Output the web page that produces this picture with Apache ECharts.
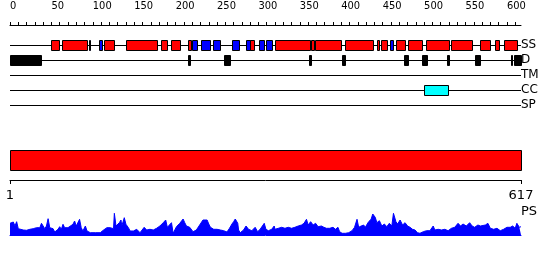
<!DOCTYPE html>
<html><head><meta charset="utf-8">
<script src="https://cdn.jsdelivr.net/npm/echarts@6/dist/echarts.min.js"></script>
<style>html,body{margin:0;padding:0;background:#fff}#c{width:550px;height:260px}</style>
</head><body><div id="c"></div>
<script>
const seqLength = 617;
const trackNames = ['SS', 'D', 'TM', 'CC', 'SP'];
const rulerLabels = [0, 50, 100, 150, 200, 250, 300, 350, 400, 450, 500, 550, 600];
const scaleLabels = [1, 617];
const profileName = 'PS';

// secondary structure: helices (red) and strands (blue), [start, end]
const helices = [[49,59],[63,93],[113,125],[140,178],[182,190],[195,205],[215,219],[290,295],
  [320,362],[363,367],[368,400],[404,438],[443,446],[448,455],[466,477],[480,497],[502,530],
  [533,558],[568,580],[586,591],[597,612]];
const strands = [[95,97],[108,111],[220,226],[231,242],[245,254],[268,276],[285,290],[301,307],
  [309,316],[459,463]];
// disorder (black)
const disorder = [[0,37],[215,217],[258,266],[361,363],[401,405],[476,480],[497,503],[528,530],
  [561,567],[605,606],[609,617]];
const transmembrane = [];
const coiledCoil = [[500,529]];
const signalPeptide = [];

// profile [position, value]
const psProfile = [[0,11.7],[2,10.7],[4,13],[6,9],[8,13.3],[10,6.3],[12,5.7],[16,5],[20,4.7],[24,5.7],[28,6.3],
[30,8.3],[32,7.3],[34,9],[36,7.3],[38,11.7],[40,13],[42,6.3],[44,9],[46,16.3],[48,7.3],[50,9],[52,6.3],
[54,3],[56,4],[58,5.7],[60,8.3],[62,5.7],[64,10.7],[66,7.3],[68,6.3],[70,7.3],[72,9],[76,10.7],[78,14],
[80,9],[82,8.3],[84,15.7],[86,7.3],[88,4],[91,9],[93,4],[95,3],[97,2.3],[103,2.3],[109,2.3],[111,4],
[113,5],[115,6.3],[117,7.3],[121,7.3],[123,9],[125,6.3],[126,21.7],[128,9],[130,9.7],[132,12.3],[134,15],
[135,9],[138,17.3],[140,10.7],[143,7.3],[145,4],[149,4],[153,5.7],[155,6.3],[157,2.3],[162,7.7],[165,5],
[169,5.7],[173,5],[177,6.7],[181,9],[185,12.3],[188,15],[190,7.7],[192,9],[195,12.3],[197,1.7],[201,8.3],
[205,11.7],[209,16],[211,12.3],[213,9],[217,7.7],[221,3.3],[225,5],[229,10],[233,15],[235,15.7],[238,15],
[240,11],[242,7.7],[246,5.7],[250,5.7],[254,5],[258,4.3],[262,3],[265,6.7],[268,11],[270,13.3],[272,16],
[275,11.7],[276,5],[278,2.3],[282,5],[285,9],[288,5.7],[292,4.3],[296,7.7],[299,3.3],[302,5.7],[304,7.7],
[307,11.7],[309,5.7],[312,4.3],[316,5.7],[319,9],[320,5.7],[324,6.7],[328,7.7],[332,6.7],[336,7.7],
[340,6.7],[344,7.7],[348,9],[352,10],[355,11.7],[358,15.7],[360,10],[363,13.3],[366,10],[369,11.7],
[372,8.3],[376,9],[379,7.7],[382,6.7],[386,6.7],[390,7.7],[393,5.7],[396,7.7],[398,3.3],[401,1.7],
[405,1.7],[409,2.3],[413,4.3],[416,7.7],[419,15.7],[421,7.7],[424,9],[427,10],[429,7.7],[433,13.3],
[436,15.7],[438,21],[441,17.7],[443,12.3],[446,14.3],[449,9],[452,11],[455,8.3],[458,11.7],[461,9],
[463,21.7],[466,13.3],[468,11],[471,15],[474,10],[477,12.3],[480,9],[483,7.7],[486,5.7],[489,5],
[492,2.3],[495,1.7],[499,3.3],[503,4.3],[507,4.3],[511,9],[513,5],[517,5.7],[521,5],[525,5.7],[529,4.3],
[533,6.7],[537,7.7],[541,11.7],[544,9],[547,11],[551,9],[555,12.3],[558,9],[561,7.7],[565,10],[568,9],
[570,7.7],[574,10],[577,11.7],[580,6.7],[584,5.7],[588,6.7],[592,4.3],[596,5.7],[600,7.7],[604,7.7],
[607,9],[610,6.7],[612,11.7],[615,7.7],[617,8.3]];

const FONT = 'DejaVu Sans';
const NARROW = "'Liberation Sans Narrow', 'DejaVu Sans Condensed', sans-serif";
const chart = echarts.init(document.getElementById('c'), null, {renderer: 'canvas'});

function crisp(v) { return Math.round(v) + 0.5; }

function boxRenderer(fill) {
  return function (params, api) {
    const t = api.value(2);
    const p0 = api.coord([api.value(0), t]);
    const p1 = api.coord([api.value(1), t]);
    const x0 = crisp(p0[0]);
    const x1 = crisp(p1[0]);
    const yc = Math.round(p0[1]);
    return {
      type: 'rect',
      shape: {x: x0, y: yc - 4.5, width: Math.max(x1 - x0, 0.01), height: 10},
      style: {fill: fill, stroke: '#000', lineWidth: 1}
    };
  };
}
function withTrack(arr, idx) { return arr.map(d => [d[0], d[1], idx]); }

const G = {left: 10, width: 511};
const option = {
  animation: false,
  backgroundColor: '#fff',
  textStyle: {fontFamily: FONT},
  grid: [
    {left: G.left, width: G.width, top: 15, height: 10},
    {left: G.left, width: G.width, top: 37.5, height: 75},
    {left: G.left, width: G.width, top: 150, height: 21},
    {left: G.left, width: G.width, top: 170, height: 10},
    {left: G.left, width: G.width, top: 205, height: 30}
  ],
  xAxis: [
    {gridIndex: 0, type: 'value', min: 0, max: seqLength, interval: 10, position: 'top',
      axisLine: {show: true, lineStyle: {color: '#000', width: 1}},
      axisTick: {show: true, length: 3, lineStyle: {color: '#000'}},
      axisLabel: {show: true, align: 'left', margin: 3, fontSize: 11, color: '#000', fontFamily: NARROW,
        showMaxLabel: false,
        formatter: v => rulerLabels.indexOf(v) >= 0 ? String(v) : ''},
      splitLine: {show: false}},
    {gridIndex: 1, type: 'value', min: 0, max: seqLength, show: false},
    {gridIndex: 2, type: 'value', min: 0, max: seqLength, show: false},
    {gridIndex: 3, type: 'value', min: 1, max: seqLength, position: 'bottom',
      axisLine: {show: true, lineStyle: {color: '#000', width: 1}},
      axisTick: {show: true, length: 4, customValues: scaleLabels, lineStyle: {color: '#000'}},
      axisLabel: {show: true, customValues: scaleLabels, margin: 9, fontSize: 13, color: '#000', fontFamily: FONT},
      splitLine: {show: false}},
    {gridIndex: 4, type: 'value', min: 0, max: seqLength,
      axisLine: {show: true, lineStyle: {color: '#0000ff', width: 1}},
      axisTick: {show: false}, axisLabel: {show: false}, splitLine: {show: false}}
  ],
  yAxis: [
    {gridIndex: 0, type: 'value', show: false},
    {gridIndex: 1, type: 'category', data: trackNames, inverse: true, position: 'right',
      axisLine: {show: false}, axisTick: {show: false}, splitLine: {show: false},
      axisLabel: {show: true, interval: 0, margin: 0, align: 'left', fontSize: 12, color: '#000', fontFamily: FONT}},
    {gridIndex: 2, type: 'value', show: false},
    {gridIndex: 3, type: 'value', show: false},
    {gridIndex: 4, type: 'value', min: 0, max: 30, show: false}
  ],
  graphic: [
    {type: 'text', left: 521, top: 205, style: {text: profileName, fontSize: 13, fontFamily: FONT, fill: '#000'}}
  ],
  series: [
    {type: 'custom', xAxisIndex: 1, yAxisIndex: 1, silent: true,
      data: trackNames.map((n, i) => [0, seqLength, i]),
      renderItem: function (params, api) {
        const t = api.value(2);
        const p0 = api.coord([api.value(0), t]);
        const p1 = api.coord([api.value(1), t]);
        const y = crisp(p0[1]);
        return {type: 'line', shape: {x1: p0[0], y1: y, x2: p1[0], y2: y},
          style: {stroke: '#000', lineWidth: 1}};
      }},
    {type: 'custom', name: 'helix', xAxisIndex: 1, yAxisIndex: 1, silent: true,
      data: withTrack(helices, 0), renderItem: boxRenderer('#ff0000')},
    {type: 'custom', name: 'strand', xAxisIndex: 1, yAxisIndex: 1, silent: true,
      data: withTrack(strands, 0), renderItem: boxRenderer('#0000ff')},
    {type: 'custom', name: 'disorder', xAxisIndex: 1, yAxisIndex: 1, silent: true,
      data: withTrack(disorder, 1), renderItem: boxRenderer('#000000')},
    {type: 'custom', name: 'tm', xAxisIndex: 1, yAxisIndex: 1, silent: true,
      data: withTrack(transmembrane, 2), renderItem: boxRenderer('#ffff00')},
    {type: 'custom', name: 'cc', xAxisIndex: 1, yAxisIndex: 1, silent: true,
      data: withTrack(coiledCoil, 3), renderItem: boxRenderer('#00ffff')},
    {type: 'custom', name: 'sp', xAxisIndex: 1, yAxisIndex: 1, silent: true,
      data: withTrack(signalPeptide, 4), renderItem: boxRenderer('#00ff00')},
    {type: 'custom', name: 'domain', xAxisIndex: 2, yAxisIndex: 2, silent: true,
      data: [[0, seqLength]],
      renderItem: function (params, api) {
        const p0 = api.coord([api.value(0), 0]);
        const p1 = api.coord([api.value(1), 0]);
        const cs = params.coordSys;
        return {type: 'rect',
          shape: {x: crisp(p0[0]), y: cs.y + 0.5, width: crisp(p1[0]) - crisp(p0[0]), height: cs.height - 1},
          style: {fill: '#ff0000', stroke: '#000', lineWidth: 1}};
      }},
    {type: 'line', name: profileName, xAxisIndex: 4, yAxisIndex: 4, silent: true,
      data: psProfile, showSymbol: false, symbol: 'none',
      lineStyle: {color: '#0000ff', width: 1},
      areaStyle: {color: '#0000ff', opacity: 1}}
  ]
};
chart.setOption(option);
</script>
</body></html>
